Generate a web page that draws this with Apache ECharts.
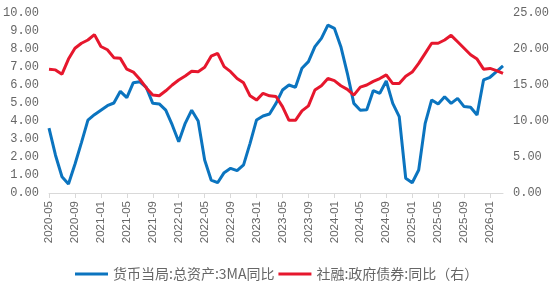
<!DOCTYPE html>
<html>
<head>
<meta charset="utf-8">
<script src="https://cdn.jsdelivr.net/npm/echarts@6/dist/echarts.min.js"></script>
<style>
html, body { margin: 0; padding: 0; background: #fff; }
#box { width: 557px; height: 283px; }
</style>
</head>
<body>
<div id="box"></div>
<script>
var months = [
	'2020-05', '2020-06', '2020-07', '2020-08', '2020-09', '2020-10', '2020-11', '2020-12',
	'2021-01', '2021-02', '2021-03', '2021-04', '2021-05', '2021-06', '2021-07', '2021-08', '2021-09', '2021-10', '2021-11', '2021-12',
	'2022-01', '2022-02', '2022-03', '2022-04', '2022-05', '2022-06', '2022-07', '2022-08', '2022-09', '2022-10', '2022-11', '2022-12',
	'2023-01', '2023-02', '2023-03', '2023-04', '2023-05', '2023-06', '2023-07', '2023-08', '2023-09', '2023-10', '2023-11', '2023-12',
	'2024-01', '2024-02', '2024-03', '2024-04', '2024-05', '2024-06', '2024-07', '2024-08', '2024-09', '2024-10', '2024-11', '2024-12',
	'2025-01', '2025-02', '2025-03', '2025-04', '2025-05', '2025-06', '2025-07', '2025-08', '2025-09', '2025-10', '2025-11', '2025-12',
	'2026-01', '2026-02', '2026-03'
];

// 货币当局:总资产:3MA同比 (左轴)
var pbocAssets = [
	3.6, 2.1, 0.9, 0.5, 1.6, 2.8, 4.05, 4.35,
	4.6, 4.85, 5.0, 5.65, 5.3, 6.13, 6.18, 5.87, 4.98, 4.95, 4.6, 3.78,
	2.85, 3.87, 4.6, 4.0, 1.83, 0.72, 0.57, 1.13, 1.37, 1.24, 1.56, 2.76,
	4.06, 4.28, 4.39, 4.98, 5.72, 6.0, 5.87, 6.93, 7.3, 8.13, 8.59, 9.33,
	9.15, 8.13, 6.65, 4.98, 4.6, 4.63, 5.69, 5.54, 6.22, 4.98, 4.24, 0.82,
	0.57, 1.28, 3.87, 5.17, 4.94, 5.35, 4.98, 5.26, 4.8, 4.76, 4.33, 6.28,
	6.43, 6.74, 7.06
];

// 社融:政府债券:同比 (右轴)
var govBonds = [
	17.2, 17.1, 16.5, 18.6, 20.1, 20.8, 21.25, 22.0,
	20.35, 19.9, 18.8, 18.7, 17.2, 16.8, 15.8, 14.6, 13.6, 13.5, 14.2, 15.0,
	15.7, 16.25, 16.9, 16.85, 17.45, 19.0, 19.4, 17.55, 16.85, 15.9, 15.3, 13.5,
	12.9, 13.85, 13.5, 13.4, 12.0, 10.1, 10.1, 11.4, 12.1, 14.3, 14.9, 15.9,
	15.6, 14.9, 14.4, 13.6, 14.7, 15.0, 15.5, 15.9, 16.4, 15.2, 15.2, 16.2,
	16.8, 18.0, 19.4, 20.8, 20.8, 21.25, 21.9, 21.0, 20.1, 19.2, 18.6, 17.2,
	17.3, 17.0, 16.6
];

var seriesNames = ['货币当局:总资产:3MA同比', '社融:政府债券:同比（右）'];

var chart = echarts.init(document.getElementById('box'));

var labelColor = '#666666';
var cjkFont = '"Noto Sans CJK SC", sans-serif';

var option = {
	animation: false,
	color: ['#0b74bf', '#e6172d'],
	grid: {
		left: 48,
		right: 54,
		top: 13,
		bottom: 90,
		containLabel: false
	},
	legend: {
		data: seriesNames,
		left: 70,
		top: 262,
		icon: 'rect',
		itemWidth: 33,
		itemHeight: 3,
		itemGap: 4,
		textStyle: {
			color: labelColor,
			fontSize: 14,
			fontFamily: cjkFont
		}
	},
	xAxis: {
		type: 'category',
		data: months,
		boundaryGap: false,
		axisLine: { lineStyle: { color: '#d9d9d9', width: 1 } },
		axisTick: { show: true, interval: 3, length: 5, lineStyle: { color: '#d9d9d9' } },
		axisLabel: {
			interval: 3,
			rotate: 90,
			margin: 8,
			color: labelColor,
			fontSize: 11.5,
			fontFamily: '"Liberation Sans", Arial, sans-serif'
		},
		splitLine: { show: false }
	},
	yAxis: [
		{
			type: 'value',
			min: 0,
			max: 10,
			interval: 1,
			axisLine: { show: false },
			axisTick: { show: false },
			splitLine: { show: false },
			axisLabel: {
				margin: 10,
				color: labelColor,
				fontSize: 12,
				fontFamily: '"Liberation Mono", monospace',
				formatter: function(v) { return v.toFixed(2); }
			}
		},
		{
			type: 'value',
			min: 0,
			max: 25,
			interval: 5,
			axisLine: { show: false },
			axisTick: { show: false },
			splitLine: { show: false },
			axisLabel: {
				margin: 10,
				color: labelColor,
				fontSize: 12,
				fontFamily: '"Liberation Mono", monospace',
				formatter: function(v) { return v.toFixed(2); }
			}
		}
	],
	series: [
		{
			name: seriesNames[0],
			type: 'line',
			yAxisIndex: 0,
			data: pbocAssets,
			symbol: 'none',
			lineStyle: { width: 3 }
		},
		{
			name: seriesNames[1],
			type: 'line',
			yAxisIndex: 1,
			data: govBonds,
			symbol: 'none',
			lineStyle: { width: 3 }
		}
	]
};

chart.setOption(option);
</script>
</body>
</html>
